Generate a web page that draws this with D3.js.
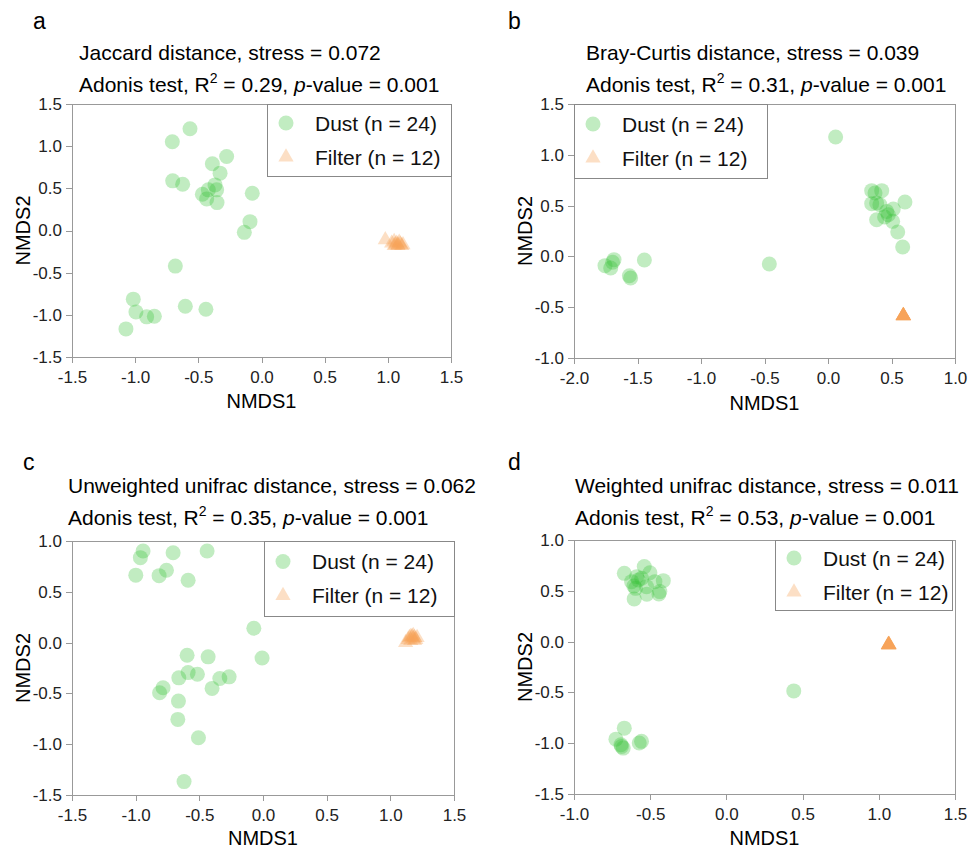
<!DOCTYPE html>
<html lang="en">
<head>
<meta charset="utf-8">
<title>NMDS panels</title>
<script src="https://cdn.jsdelivr.net/npm/d3@7"></script>
<style>
  body { margin: 0; background: #fff; }
  svg { font-family: "Liberation Sans", Arial, sans-serif; }
  .axis path, .axis line { stroke: #999; shape-rendering: crispEdges; }
  .axis text { font-size: 17px; fill: #222; }
</style>
</head>
<body>
<script>
// NMDS coordinates, [NMDS1, NMDS2]
var dustA = [[-0.566,1.207],[-0.706,1.052],[-0.276,0.878],[-0.389,0.791],[-0.328,0.680],
  [-0.703,0.589],[-0.624,0.549],[-0.368,0.541],[-0.468,0.430],[-0.421,0.482],[-0.355,0.482],
  [-0.434,0.375],[-0.352,0.331],[-0.073,0.442],[-0.091,0.105],[-0.136,-0.022],[-0.682,-0.422],
  [-1.015,-0.814],[-0.994,-0.965],[-0.909,-1.024],[-0.848,-1.017],[-0.603,-0.898],[-0.440,-0.933],
  [-1.073,-1.167]];
var filterA = [[0.98,-0.11],[1.03,-0.15],[1.05,-0.13],[1.06,-0.17],[1.07,-0.15],[1.08,-0.17],
  [1.09,-0.14],[1.10,-0.16],[1.11,-0.18],[1.12,-0.17],[1.05,-0.18],[1.08,-0.18]];

var dustB = [[0.060,1.175],[0.344,0.647],[0.423,0.647],[0.344,0.519],[0.383,0.526],[0.409,0.509],
  [0.606,0.535],[0.514,0.466],[0.462,0.443],[0.475,0.410],[0.383,0.361],[0.446,0.388],
  [0.509,0.345],[0.549,0.240],[0.588,0.093],[-0.462,-0.075],[-1.756,-0.091],[-1.711,-0.114],
  [-1.685,-0.032],[-1.696,-0.058],[-1.564,-0.190],[-1.554,-0.213],[-1.446,-0.036],[0.370,0.624]];
var filterB = [[0.593,-0.584],[0.593,-0.584],[0.594,-0.585],[0.592,-0.583],[0.593,-0.586],[0.594,-0.583],
  [0.592,-0.585],[0.593,-0.584],[0.595,-0.584],[0.591,-0.584],[0.593,-0.582],[0.593,-0.587]];

var dustC = [[-0.942,0.902],[-0.963,0.836],[-0.706,0.885],[-0.439,0.902],[-0.999,0.664],
  [-0.816,0.659],[-0.758,0.712],[-0.588,0.613],[-0.072,0.141],[-0.007,-0.151],[-0.596,-0.124],
  [-0.431,-0.140],[-0.588,-0.295],[-0.661,-0.347],[-0.515,-0.311],[-0.339,-0.353],[-0.266,-0.337],
  [-0.400,-0.451],[-0.785,-0.445],[-0.812,-0.494],[-0.664,-0.576],[-0.669,-0.756],[-0.507,-0.936],
  [-0.620,-1.368]];
var filterC = [[1.12,0.00],[1.14,0.03],[1.15,0.05],[1.16,0.02],[1.17,0.06],[1.18,0.04],
  [1.18,0.07],[1.19,0.05],[1.20,0.03],[1.21,0.05],[1.16,0.06],[1.19,0.02]];

var dustD = [[-0.670,0.672],[-0.539,0.738],[-0.502,0.678],[-0.589,0.639],[-0.578,0.606],
  [-0.414,0.600],[-0.469,0.590],[-0.607,0.547],[-0.596,0.524],[-0.437,0.492],[-0.443,0.469],
  [-0.522,0.466],[-0.605,0.420],[-0.556,0.623],[-0.524,0.541],[-0.622,0.590],[0.442,-0.485],
  [-0.670,-0.852],[-0.725,-0.960],[-0.692,-1.015],[-0.677,-1.048],[-0.572,-0.998],[-0.557,-0.982],
  [-0.688,-1.032]];
var filterD = [[1.065,-0.030],[1.063,-0.032],[1.067,-0.028],[1.064,-0.031],[1.066,-0.033],[1.065,-0.029],
  [1.062,-0.030],[1.068,-0.031],[1.065,-0.032],[1.064,-0.028],[1.066,-0.030],[1.065,-0.031]];

var panelLetters = ["a", "b", "c", "d"];
var distanceNames = ["Jaccard distance, stress = 0.072", "Bray-Curtis distance, stress = 0.039",
  "Unweighted unifrac distance, stress = 0.062", "Weighted unifrac distance, stress = 0.011"];
var r2Values = ["0.29", "0.31", "0.35", "0.53"];
var pValue = "0.001";
var xDomains = [[-1.5, 1.5], [-2, 1], [-1.5, 1.5], [-1, 1.5]];
var yDomains = [[-1.5, 1.5], [-1, 1.5], [-1.5, 1], [-1.5, 1]];
var legendLabels = ["Dust (n = 24)", "Filter (n = 12)"];

var w = 971, h = 850;
var green = "#33c033", orange = "#f7a25a";

var panels = [
  { dust: dustA, filter: filterA, left: 72, right: 451, top: 104, bottom: 357,
    letterX: 33, letterY: 29, titleX: 79, titleY: 60, yLabX: 30, xLabY: 408,
    legend: [267, 451, 104, 176] },
  { dust: dustB, filter: filterB, left: 574, right: 955, top: 104, bottom: 358,
    letterX: 508, letterY: 29, titleX: 586, titleY: 60, yLabX: 532, xLabY: 410,
    legend: [574, 767, 104, 178] },
  { dust: dustC, filter: filterC, left: 72, right: 454, top: 541, bottom: 795,
    letterX: 23, letterY: 470, titleX: 68, titleY: 493, yLabX: 30, xLabY: 845,
    legend: [264, 454, 541, 616] },
  { dust: dustD, filter: filterD, left: 574, right: 955, top: 540, bottom: 794,
    letterX: 508, letterY: 470, titleX: 575, titleY: 493, yLabX: 532, xLabY: 845,
    legend: [775, 952, 540, 610] }
];

var svg = d3.select("body").append("svg")
  .attr("width", w)
  .attr("height", h);

var tri = d3.symbol().type(d3.symbolTriangle).size(100);
// plain hyphen for negatives, like the original
var fmt = d3.formatLocale({ decimal: ".", thousands: ",", grouping: [3], currency: ["", ""], minus: "-" }).format(".1f");

panels.forEach(function(p, i) {
  var g = svg.append("g");

  var xScale = d3.scaleLinear().domain(xDomains[i]).range([p.left, p.right]);
  var yScale = d3.scaleLinear().domain(yDomains[i]).range([p.bottom, p.top]);

  var xt = d3.range(xDomains[i][0], xDomains[i][1] + 0.01, 0.5);
  var yt = d3.range(yDomains[i][0], yDomains[i][1] + 0.01, 0.5);

  // frame (top and right)
  g.append("path")
    .attr("d", "M" + p.left + "," + p.top + "H" + p.right + "V" + p.bottom)
    .attr("fill", "none")
    .attr("stroke", "#999")
    .attr("shape-rendering", "crispEdges");

  g.append("g")
    .attr("class", "axis")
    .attr("transform", "translate(0," + p.bottom + ")")
    .call(d3.axisBottom(xScale).tickValues(xt).tickFormat(fmt).tickSizeInner(6).tickSizeOuter(0).tickPadding(8));

  g.append("g")
    .attr("class", "axis")
    .attr("transform", "translate(" + p.left + ",0)")
    .call(d3.axisLeft(yScale).tickValues(yt).tickFormat(fmt).tickSizeInner(6).tickSizeOuter(0).tickPadding(4));

  // points
  g.append("g").selectAll("circle")
    .data(p.dust)
    .enter()
    .append("circle")
    .attr("cx", function(d) { return xScale(d[0]); })
    .attr("cy", function(d) { return yScale(d[1]); })
    .attr("r", 7.5)
    .attr("fill", green)
    .attr("fill-opacity", 0.3);

  g.append("g").selectAll("path")
    .data(p.filter)
    .enter()
    .append("path")
    .attr("d", tri)
    .attr("transform", function(d) { return "translate(" + xScale(d[0]) + "," + yScale(d[1]) + ")"; })
    .attr("fill", orange)
    .attr("fill-opacity", 0.35);

  // legend
  var L = p.legend;
  g.append("rect")
    .attr("x", L[0]).attr("y", L[2])
    .attr("width", L[1] - L[0]).attr("height", L[3] - L[2])
    .attr("fill", "#fff")
    .attr("stroke", "#888")
    .attr("shape-rendering", "crispEdges");
  var midY = (L[2] + L[3]) / 2;
  var rowY = [midY - 17, midY + 17];
  g.append("circle")
    .attr("cx", L[0] + 19).attr("cy", rowY[0])
    .attr("r", 7.5).attr("fill", green).attr("fill-opacity", 0.3);
  g.append("path")
    .attr("d", tri)
    .attr("transform", "translate(" + (L[0] + 19) + "," + rowY[1] + ")")
    .attr("fill", orange).attr("fill-opacity", 0.35);
  legendLabels.forEach(function(lab, k) {
    g.append("text")
      .attr("x", L[0] + 48).attr("y", rowY[k] + 7.5)
      .attr("font-size", 21)
      .attr("fill", "#111")
      .text(lab);
  });

  // titles
  g.append("text")
    .attr("x", p.letterX).attr("y", p.letterY)
    .attr("font-size", 23)
    .text(panelLetters[i]);

  g.append("text")
    .attr("x", p.titleX).attr("y", p.titleY)
    .attr("font-size", 21)
    .text(distanceNames[i]);

  var t2 = g.append("text")
    .attr("x", p.titleX).attr("y", p.titleY + 32)
    .attr("font-size", 21);
  t2.append("tspan").text("Adonis test, R");
  t2.append("tspan").attr("font-size", 14).attr("dy", -9).text("2");
  t2.append("tspan").attr("dy", 9).text(" = " + r2Values[i] + ", ");
  t2.append("tspan").attr("font-style", "italic").text("p");
  t2.append("tspan").text("-value = " + pValue);

  // axis labels
  g.append("text")
    .attr("x", (p.left + p.right) / 2).attr("y", p.xLabY)
    .attr("text-anchor", "middle")
    .attr("font-size", 20)
    .text("NMDS1");

  g.append("text")
    .attr("transform", "translate(" + p.yLabX + "," + (p.top + p.bottom) / 2 + ") rotate(-90)")
    .attr("text-anchor", "middle")
    .attr("font-size", 20)
    .text("NMDS2");
});
</script>
</body>
</html>
